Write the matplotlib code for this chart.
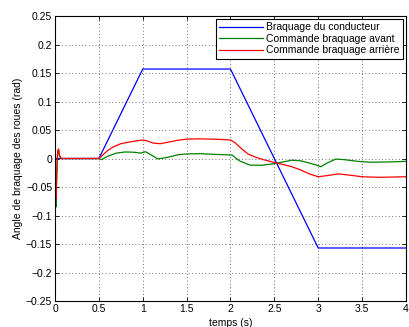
import matplotlib
matplotlib.use("Agg")
import matplotlib.pyplot as plt

plt.rcParams['font.family'] = ['Liberation Sans', 'DejaVu Sans']

# braquage du conducteur
t_cond = [0, 0.5, 1.0, 2.0, 3.0, 4.0]
cond = [0, 0, 0.157, 0.157, -0.157, -0.157]

# commande braquage avant
t_av = [0, 0.005, 0.012, 0.02, 0.03, 0.04, 0.05, 0.07, 0.1, 0.5, 0.53, 0.6, 0.7, 0.8, 0.9,
        0.98, 1.03, 1.1, 1.17, 1.25, 1.4, 1.5, 1.65, 1.8, 1.95, 2.02, 2.1, 2.22, 2.35, 2.5,
        2.6, 2.7, 2.8, 2.9, 2.97, 3.03, 3.1, 3.2, 3.3, 3.45, 3.6, 3.8, 4.0]
avant = [0, -0.04, -0.085, -0.03, 0.01, 0.016, 0.005, 0.0, 0.0, 0.0, -0.002, 0.004, 0.0095, 0.0115, 0.011,
         0.0095, 0.012, 0.006, -0.0006, 0.001, 0.0065, 0.008, 0.0085, 0.0075, 0.0065, 0.006, -0.004, -0.0115, -0.012, -0.009,
         -0.006, -0.003, -0.004, -0.008, -0.011, -0.0144, -0.008, -0.001, -0.002, -0.005, -0.0065, -0.006, -0.005]

# commande braquage arrière
t_ar = [0, 0.005, 0.012, 0.02, 0.03, 0.04, 0.05, 0.07, 0.1, 0.5, 0.55, 0.6, 0.66, 0.75, 0.85,
        0.95, 1.0, 1.05, 1.12, 1.2, 1.3, 1.4, 1.5, 1.65, 1.8, 1.95, 2.0, 2.05, 2.12, 2.2,
        2.3, 2.4, 2.5, 2.6, 2.7, 2.8, 2.9, 3.0, 3.1, 3.23, 3.35, 3.5, 3.7, 4.0]
arriere = [0, -0.035, -0.07, -0.02, 0.012, 0.017, 0.006, 0.0, 0.0, 0.0, 0.007, 0.014, 0.02, 0.026, 0.029,
           0.0315, 0.0325, 0.031, 0.027, 0.026, 0.029, 0.032, 0.034, 0.0345, 0.034, 0.033, 0.0325, 0.028, 0.018, 0.008,
           0.0015, -0.003, -0.007, -0.0105, -0.0145, -0.02, -0.027, -0.032, -0.03, -0.027, -0.029, -0.032, -0.033, -0.032]

xticks = [0, 0.5, 1, 1.5, 2, 2.5, 3, 3.5, 4]
xtick_labels = ['0', '0.5', '1', '1.5', '2', '2.5', '3', '3.5', '4']
yticks = [-0.25, -0.2, -0.15, -0.1, -0.05, 0, 0.05, 0.1, 0.15, 0.2, 0.25]
ytick_labels = ['\u22120.25', '\u22120.2', '\u22120.15', '\u22120.1', '\u22120.05', '0',
                '0.05', '0.1', '0.15', '0.2', '0.25']

fig = plt.figure(figsize=(4.09, 3.27), dpi=100)
ax = fig.add_axes([0.1345, 0.0795, 0.858, 0.8715])

ax.plot(t_cond, cond, color='#0000ff', lw=0.9, label='Braquage du conducteur')
ax.plot(t_av, avant, color='#008000', lw=0.9, label='Commande braquage avant')
ax.plot(t_ar, arriere, color='#ff0000', lw=0.9, label='Commande braquage arri\u00e8re')

ax.set_xlim(0, 4)
ax.set_ylim(-0.25, 0.25)
ax.set_xticks(xticks)
ax.set_xticklabels(xtick_labels)
ax.set_yticks(yticks)
ax.set_yticklabels(ytick_labels)
ax.tick_params(direction='in', labelsize=7.5, length=3, width=0.6, top=True, right=True, pad=2)
ax.grid(True, linestyle=(0, (1, 3)), color='#444444', lw=0.6)
for s in ax.spines.values():
    s.set_linewidth(0.8)

ax.set_xlabel('temps (s)', fontsize=7.5, labelpad=3)
ax.set_ylabel('Angle de braquage des roues (rad)', fontsize=7.5, labelpad=2)

leg = ax.legend(loc='upper right', fontsize=7.5, fancybox=False, framealpha=1,
                edgecolor='black', handlelength=4.2, borderaxespad=0.3,
                borderpad=0.3, labelspacing=0.15, handletextpad=0.3)
leg.get_frame().set_linewidth(0.8)

fig.savefig('out.png', dpi=100)
